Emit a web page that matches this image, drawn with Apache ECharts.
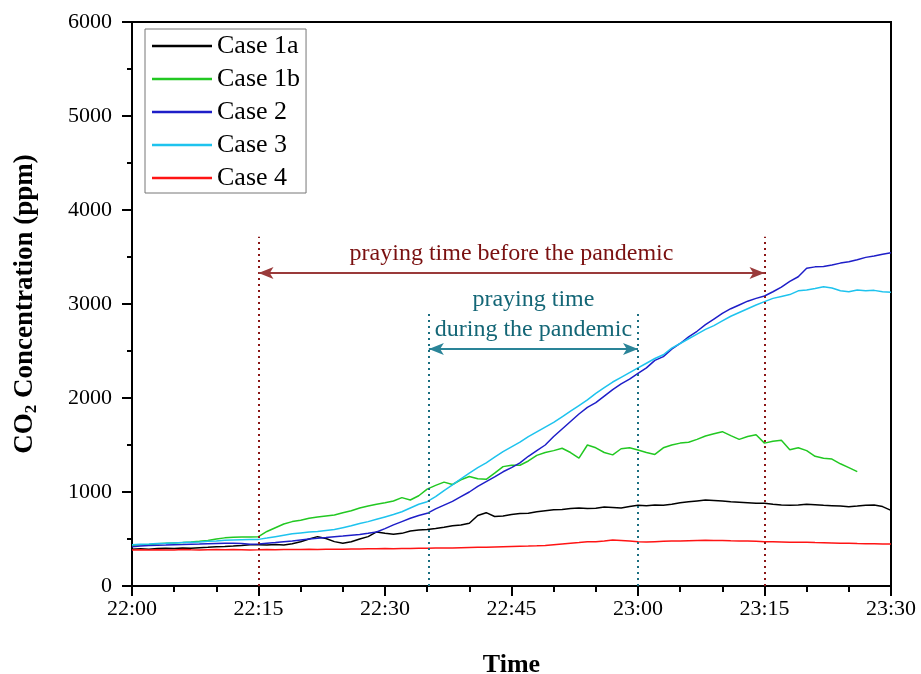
<!DOCTYPE html>
<html><head><meta charset="utf-8">
<script src="https://cdn.jsdelivr.net/npm/echarts@6/dist/echarts.min.js"></script>
<style>html,body{margin:0;padding:0;background:#fff}#c{width:921px;height:674px}</style>
</head><body><div id="c"></div>
<script>
// minutes after 22:00
const minutes = [0,1,2,3,4,5,6,7,8,9,10,11,12,13,14,15,16,17,18,19,20,21,22,23,24,25,26,27,28,29,30,31,32,33,34,35,36,37,38,39,40,41,42,43,44,45,46,47,48,49,50,51,52,53,54,55,56,57,58,59,60,61,62,63,64,65,66,67,68,69,70,71,72,73,74,75,76,77,78,79,80,81,82,83,84,85,86,87,88,89,90];
const seriesNames = ['Case 1a','Case 1b','Case 2','Case 3','Case 4'];
const case1a = [390,395,392,400,401,398,405,402,408,412,418,420,425,432,440,440,436,442,436,450,470,500,525,505,472,454,470,500,525,575,560,550,560,585,595,600,612,625,640,650,667,750,780,740,745,760,770,775,790,800,810,815,825,830,825,826,840,835,830,845,860,855,862,860,870,885,895,905,915,910,905,895,890,885,880,880,870,862,860,862,870,865,858,855,850,844,850,860,862,845,805];
const case1b = [433,438,440,450,454,458,462,468,475,485,500,512,518,520,522,525,580,620,660,685,700,720,735,745,755,780,800,830,850,870,885,905,940,915,960,1030,1070,1105,1080,1130,1165,1140,1135,1200,1270,1285,1285,1330,1390,1420,1440,1465,1420,1360,1500,1470,1420,1395,1460,1470,1447,1420,1400,1470,1500,1520,1530,1560,1596,1620,1642,1600,1560,1590,1610,1520,1540,1550,1450,1470,1440,1380,1360,1350,1300,1260,1216,null,null,null,null];
const case2 = [418,425,430,433,436,440,442,445,447,450,452,454,455,452,445,447,455,462,472,480,490,500,507,515,525,532,540,548,560,575,610,650,685,720,750,773,820,860,900,950,1000,1060,1110,1160,1215,1260,1310,1380,1440,1500,1590,1670,1750,1830,1900,1950,2020,2090,2150,2200,2262,2320,2400,2440,2520,2580,2650,2710,2780,2840,2900,2950,2990,3030,3060,3085,3130,3180,3240,3290,3380,3395,3400,3415,3435,3450,3470,3496,3510,3530,3545];
const case3 = [440,445,448,452,454,458,462,465,468,475,480,486,489,492,494,496,510,525,540,555,565,575,580,590,600,620,640,665,685,710,735,760,790,830,870,897,950,1015,1075,1140,1200,1260,1310,1370,1430,1480,1530,1590,1640,1690,1740,1800,1860,1920,1980,2050,2110,2170,2220,2270,2320,2370,2420,2460,2530,2580,2630,2680,2730,2770,2820,2870,2910,2950,2990,3025,3060,3080,3100,3140,3150,3165,3184,3170,3141,3130,3150,3140,3145,3130,3125];
const case4 = [383,385,382,386,384,383,387,385,384,386,388,385,387,386,384,385,388,386,389,387,388,390,389,392,391,392,394,393,396,395,398,397,399,400,401,401,403,405,404,407,410,412,411,414,417,420,423,425,428,432,440,448,455,462,470,472,480,489,485,478,470,468,472,475,478,480,482,484,486,485,485,482,480,478,475,470,470,468,466,465,465,462,460,458,456,455,452,450,450,448,447];
const colors = ['#000000','#22c822','#1e1ec8','#1ec3ee','#ff1414'];
// annotation values (minutes, ppm)
const beforeStart = 15, beforeEnd = 75, beforeArrowY = 3330, beforeLineTop = 3716;
const duringStart = 35.2, duringEnd = 60, duringArrowY = 2520, duringLineTop = 2930;

const font = 'Liberation Serif';
const values = [case1a, case1b, case2, case3, case4];
function fmt(t){const h=22+Math.floor(t/60);const m=t%60;return h+':'+(m<10?'0':'')+m;}

const series = seriesNames.map((n,i)=>({
  name:n, type:'line', symbol:'none', showSymbol:false, animation:false,
  data: minutes.map((t,k)=>[t, values[i][k]]),
  lineStyle:{color:colors[i], width:1.5}, itemStyle:{color:colors[i]}, z: 3
}));
const red = '#8a1616', teal = '#1a6e80';
series.push({
  type:'line', data:[], silent:true, animation:false,
  markLine:{silent:true, animation:false, symbol:['none','none'],
    data:[
      [{coord:[beforeStart,0],lineStyle:{color:red}},{coord:[beforeStart,beforeLineTop]}],
      [{coord:[beforeEnd,0],lineStyle:{color:red}},{coord:[beforeEnd,beforeLineTop]}],
      [{coord:[duringStart,0],lineStyle:{color:teal}},{coord:[duringStart,duringLineTop]}],
      [{coord:[duringEnd,0],lineStyle:{color:teal}},{coord:[duringEnd,duringLineTop]}]
    ],
    lineStyle:{type:[2,4], width:2}, label:{show:false}}
});
series.push({
  type:'line', data:[], silent:true, animation:false,
  markLine:{silent:true, animation:false, symbol:['arrow','arrow'], symbolSize:[9,15],
    data:[
      [{coord:[beforeStart,beforeArrowY],lineStyle:{color:'#9a3a3a'},
        label:{formatter:'praying time before the pandemic',color:'#7a1010'}},{coord:[beforeEnd,beforeArrowY]}],
      [{coord:[duringStart,duringArrowY],lineStyle:{color:'#2a8498'},
        label:{formatter:'praying time\nduring the pandemic',color:'#136676'}},{coord:[duringEnd,duringArrowY]}]
    ],
    lineStyle:{type:'solid', width:2},
    label:{show:true, position:'middle', distance:4, fontFamily:font, fontSize:24, lineHeight:30}}
});

const chart = echarts.init(document.getElementById('c'));
chart.setOption({
  backgroundColor:'#ffffff',
  animation:false,
  grid:{left:132, right:30, top:22, bottom:88, show:true, borderColor:'#000', borderWidth:2, backgroundColor:'transparent', outerBoundsMode:'none', containLabel:false},
  legend:{
    data:seriesNames, orient:'vertical', left:145, top:29,
    icon:'rect', itemWidth:60, itemHeight:2.5, itemGap:7,
    padding:[4,6,2,7], borderColor:'#777', borderWidth:1,
    textStyle:{fontFamily:font, fontSize:26, color:'#000', lineHeight:26}
  },
  xAxis:{type:'value', min:0, max:90, interval:15,
    name:'Time', nameLocation:'middle', nameGap:66,
    nameTextStyle:{fontFamily:font, fontSize:26, fontWeight:'bold', color:'#000'},
    axisLine:{lineStyle:{color:'#000', width:2}},
    axisTick:{show:true, inside:false, length:10, lineStyle:{color:'#000', width:2}},
    minorTick:{show:true, splitNumber:3, length:6, lineStyle:{color:'#000', width:2}},
    splitLine:{show:false},
    axisLabel:{formatter:fmt, fontFamily:font, fontSize:22, color:'#000', margin:12}
  },
  yAxis:{type:'value', min:0, max:6000, interval:1000,
    name:'{a|CO}{s|2}{a| Concentration (ppm)}', nameLocation:'middle', nameGap:92, nameRotate:90,
    nameTextStyle:{rich:{
      a:{fontFamily:font, fontSize:27, fontWeight:'bold', color:'#000'},
      s:{fontFamily:font, fontSize:17, fontWeight:'bold', color:'#000', padding:[12,0,0,0]}
    }},
    axisLine:{show:true, lineStyle:{color:'#000', width:2}},
    axisTick:{show:true, inside:false, length:10, lineStyle:{color:'#000', width:2}},
    minorTick:{show:true, splitNumber:2, length:5, lineStyle:{color:'#000', width:2}},
    splitLine:{show:false},
    axisLabel:{formatter:function(v){return String(v);}, fontFamily:font, fontSize:22, color:'#000', margin:20}
  },
  series:series
});
</script></body></html>
